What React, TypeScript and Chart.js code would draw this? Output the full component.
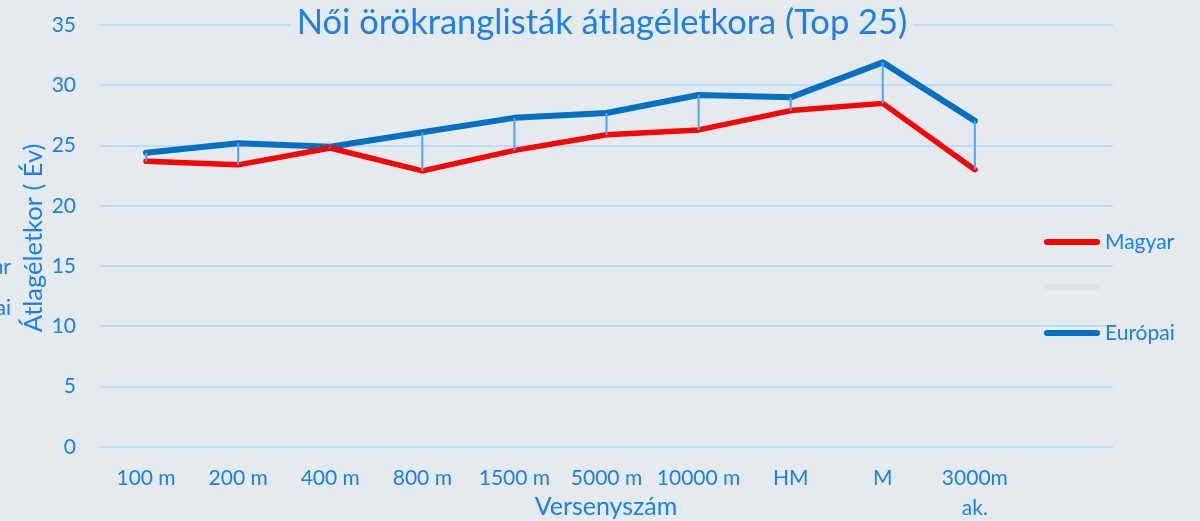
import { useEffect, useRef } from 'react';
import { Chart, registerables } from 'chart.js';

Chart.register(...registerables);

const titleText = 'Női örökranglisták átlagéletkora (Top 25)';
const yTitle = 'Átlagéletkor ( Év)';
const xTitle = 'Versenyszám';

const categories: (string | string[])[] = ['100 m', '200 m', '400 m', '800 m', '1500 m', '5000 m', '10000 m', 'HM', 'M', ['3000m', 'ak.'], ''];
const magyar = [23.7, 23.4, 24.8, 22.9, 24.6, 25.9, 26.3, 27.9, 28.5, 23.0, null];
const europai = [24.4, 25.2, 24.9, 26.1, 27.3, 27.7, 29.2, 29.0, 31.9, 27.05, null];
const blank = [null, null, null, null, null, null, null, null, null, null, null];
const yTicks = [0, 5, 10, 15, 20, 25, 30, 35];

const FONT = 'Lato';
const TEXT = '#1a7ff0';
const BG = '#e5eaef';

const decorPlugin = {
  id: 'decor',
  beforeDraw(chart: any) {
    const { ctx, width, height } = chart;
    ctx.save();
    ctx.fillStyle = BG;
    ctx.fillRect(0, 0, width, height);
    ctx.restore();
  },
  afterDatasetsDraw(chart: any) {
    const ctx = chart.ctx;
    const lo = chart.getDatasetMeta(0).data;
    const hi = chart.getDatasetMeta(2).data;
    ctx.save();
    ctx.strokeStyle = '#4ea5ff';
    ctx.lineWidth = 2;
    for (let i = 0; i < lo.length; i++) {
      const a = lo[i];
      const b = hi[i];
      if (!a || !b || a.skip || b.skip) continue;
      ctx.beginPath();
      ctx.moveTo(a.x, a.y);
      ctx.lineTo(b.x, b.y);
      ctx.stroke();
    }
    ctx.restore();
  },
  afterDraw(chart: any) {
    const { ctx } = chart;
    ctx.save();
    // title with background box
    ctx.font = `34.5px ${FONT}`;
    const tw = ctx.measureText(titleText).width;
    const cx = 602;
    ctx.fillStyle = BG;
    ctx.fillRect(cx - tw / 2 - 6, 4, tw + 12, 38);
    ctx.fillStyle = TEXT;
    ctx.textAlign = 'center';
    ctx.textBaseline = 'middle';
    ctx.fillText(titleText, cx, 23);

    // x title
    ctx.font = `25px ${FONT}`;
    ctx.fillText(xTitle, 606, 507);

    // y title
    ctx.save();
    ctx.font = `25.5px ${FONT}`;
    ctx.translate(34, 238);
    ctx.rotate(-Math.PI / 2);
    ctx.fillText(yTitle, 0, 0);
    ctx.restore();

    // legend
    ctx.font = `21px ${FONT}`;
    ctx.textAlign = 'left';
    const order = [0, 1, 2];
    const ys = [242, 287, 333];
    order.forEach((di, k) => {
      const ds = chart.data.datasets[di];
      ctx.strokeStyle = ds.borderColor;
      ctx.lineWidth = 6;
      ctx.lineCap = 'round';
      ctx.beginPath();
      ctx.moveTo(1047, ys[k]);
      ctx.lineTo(1097, ys[k]);
      ctx.stroke();
      if (ds.label) {
        ctx.fillStyle = TEXT;
        ctx.fillText(ds.label, 1105, ys[k]);
      }
    });

    // cut-off legend remnant on the left edge
    ctx.textAlign = 'right';
    ctx.fillStyle = TEXT;
    ctx.fillText(chart.data.datasets[0].label, 11, 267);
    ctx.fillText(chart.data.datasets[2].label, 11, 308);
    ctx.restore();
  },
};

export default function App() {
  const ref = useRef<HTMLCanvasElement>(null);
  useEffect(() => {
    if (!ref.current) return;
    const chart = new Chart(ref.current, {
      type: 'line',
      data: {
        labels: categories,
        datasets: [
          {
            label: 'Magyar',
            data: magyar,
            borderColor: '#ff0000',
            backgroundColor: '#ff0000',
            borderWidth: 5.5,
            borderCapStyle: 'round',
            borderJoinStyle: 'round',
            pointRadius: 0,
            tension: 0,
          },
          {
            label: '',
            data: blank,
            borderColor: '#dfe3e8',
            backgroundColor: '#dfe3e8',
            borderWidth: 5,
            pointRadius: 0,
          },
          {
            label: 'Európai',
            data: europai,
            borderColor: '#0070c0',
            backgroundColor: '#0070c0',
            borderWidth: 6,
            borderCapStyle: 'round',
            borderJoinStyle: 'round',
            pointRadius: 0,
            tension: 0,
          },
        ],
      },
      options: {
        responsive: false,
        animation: false,
        layout: { padding: { top: 25, right: 87, bottom: 0, left: 0 } },
        plugins: {
          legend: { display: false },
          title: { display: false },
          tooltip: { enabled: false },
        },
        scales: {
          x: {
            offset: true,
            grid: { display: false, drawTicks: false, offset: true },
            border: { display: false },
            ticks: {
              color: TEXT,
              font: { family: FONT, size: 21, lineHeight: 1.45 },
              padding: 16,
              maxRotation: 0,
              autoSkip: false,
            },
            afterFit(scale: any) {
              scale.height = 74;
            },
          },
          y: {
            min: 0,
            max: 35,
            afterBuildTicks(scale: any) {
              scale.ticks = yTicks.map((v) => ({ value: v }));
            },
            grid: { color: '#bfdcfa', lineWidth: 2, drawTicks: false },
            border: { display: false },
            ticks: {
              color: TEXT,
              font: { family: FONT, size: 21 },
              padding: 24,
            },
            afterFit(scale: any) {
              scale.width = 100;
              scale.paddingTop = 0;
              scale.paddingBottom = 0;
            },
          },
        },
      },
      plugins: [decorPlugin],
    } as any);
    return () => chart.destroy();
  }, []);
  return (
    <div style={{ position: 'absolute', left: 0, top: 0, width: 1200, height: 521 }}>
      <canvas ref={ref} width={1200} height={521} />
    </div>
  );
}
